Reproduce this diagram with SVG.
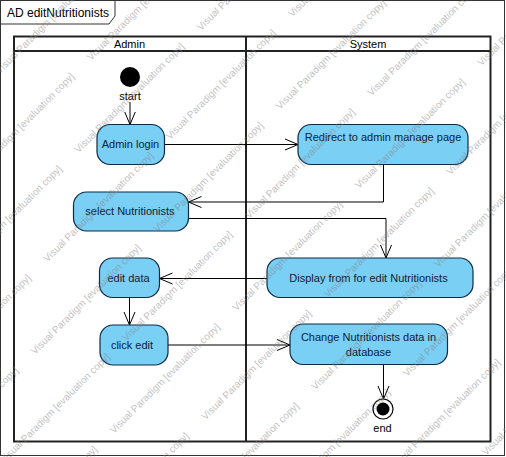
<svg xmlns="http://www.w3.org/2000/svg" width="506" height="457" viewBox="0 0 506 457">
<style>
.frame{fill:#fff;stroke:#333;stroke-width:1}
.lane{fill:none;stroke:#222;stroke-width:2}
.act{fill:#7ACFF5;stroke:#0D2B45;stroke-width:1.2}
.t{font-family:"Liberation Sans",Arial,sans-serif;font-size:11px;fill:#0F2235;text-anchor:middle}
.lbl{font-family:"Liberation Sans",Arial,sans-serif;font-size:11px;fill:#000;text-anchor:middle}
.title{font-family:"Liberation Sans",Arial,sans-serif;font-size:12px;fill:#000}
.c{fill:none;stroke:#000;stroke-width:1}
.wm{font-family:"Liberation Sans",Arial,sans-serif;font-size:10px;fill:#808080;fill-opacity:0.5}
</style>
<defs>
<marker id="arr" markerUnits="userSpaceOnUse" markerWidth="14" markerHeight="13" viewBox="0 0 14 13" refX="13" refY="6.5" orient="auto">
<path d="M0,1 L13,6.5 L0,12" fill="none" stroke="#000" stroke-width="1"/>
</marker>
</defs>
<rect width="506" height="457" fill="#fff"/>
<g id="frame">
<rect class="frame" x="0.5" y="0.5" width="504" height="455"/>
<path d="M0.5,24 L109,24 L115,16 L115,0.5" fill="none" stroke="#333" stroke-width="1"/>
<text class="title" x="7" y="17">AD editNutritionists</text>
</g>
<g id="swimlanes">
<rect class="lane" x="14" y="36.5" width="476.5" height="405"/>
<line class="lane" x1="14" y1="51" x2="490.5" y2="51"/>
<line class="lane" x1="246" y1="36.5" x2="246" y2="441.5"/>
<text class="lbl" x="129.5" y="48">Admin</text>
<text class="lbl" x="368" y="48">System</text>
</g>
<g id="connectors">
<path class="c" d="M130,102 L130,124.5" marker-end="url(#arr)"/>
<path class="c" d="M164.5,144.5 L298,144.5" marker-end="url(#arr)"/>
<path class="c" d="M383.5,164.5 L383.5,202 L188.5,202" marker-end="url(#arr)"/>
<path class="c" d="M188.5,218.5 L386,218.5 L386,258" marker-end="url(#arr)"/>
<path class="c" d="M267,278.5 L159.5,278.5" marker-end="url(#arr)"/>
<path class="c" d="M129.5,298 L129.5,325" marker-end="url(#arr)"/>
<path class="c" d="M168,345 L290,345" marker-end="url(#arr)"/>
<path class="c" d="M383.5,364.5 L383.5,399" marker-end="url(#arr)"/>
</g>
<g id="start">
<circle cx="130" cy="77" r="10" fill="#000"/>
<text class="lbl" x="130" y="100">start</text>
</g>
<g id="adminLogin">
<rect class="act" x="97" y="124.5" width="67.5" height="40" rx="13"/>
<text class="t" x="130.5" y="148">Admin login</text>
</g>
<g id="redirect">
<rect class="act" x="298" y="124.5" width="170" height="40" rx="13"/>
<text class="t" x="383" y="141">Redirect to admin manage page</text>
</g>
<g id="selectNutritionists">
<rect class="act" x="73.5" y="192" width="115" height="39" rx="13"/>
<text class="t" x="130" y="215">select Nutritionists</text>
</g>
<g id="displayForm">
<rect class="act" x="267" y="258" width="206" height="39.5" rx="13"/>
<text class="t" x="368.5" y="282">Display from for edit Nutritionists</text>
</g>
<g id="editData">
<rect class="act" x="99.5" y="258" width="60" height="39.5" rx="13"/>
<text class="t" x="128.5" y="282">edit data</text>
</g>
<g id="clickEdit">
<rect class="act" x="100" y="325" width="68" height="40" rx="13"/>
<text class="t" x="132" y="349">click edit</text>
</g>
<g id="changeData">
<rect class="act" x="290" y="324" width="157.5" height="40.5" rx="13"/>
<text class="t" x="368.5" y="341">Change Nutritionists data in</text>
<text class="t" x="368.5" y="356">database</text>
</g>
<g id="end">
<circle cx="383" cy="409" r="10" fill="#fff" stroke="#000" stroke-width="1.2"/>
<circle cx="383" cy="409" r="6.5" fill="#000"/>
<text class="lbl" x="382.5" y="432">end</text>
</g>
<g id="watermark" class="wm">
<text transform="translate(-0.5,74.5) rotate(-45)">Visual Paradigm [evaluation copy]</text>
<text transform="translate(-44,276) rotate(-45)">Visual Paradigm [evaluation copy]</text>
<text transform="translate(78.5,153.5) rotate(-45)">Visual Paradigm [evaluation copy]</text>
<text transform="translate(201,31) rotate(-45)">Visual Paradigm [evaluation copy]</text>
<text transform="translate(-87.5,477.5) rotate(-45)">Visual Paradigm [evaluation copy]</text>
<text transform="translate(35,355) rotate(-45)">Visual Paradigm [evaluation copy]</text>
<text transform="translate(157.5,232.5) rotate(-45)">Visual Paradigm [evaluation copy]</text>
<text transform="translate(280,110) rotate(-45)">Visual Paradigm [evaluation copy]</text>
<text transform="translate(-8.5,556.5) rotate(-45)">Visual Paradigm [evaluation copy]</text>
<text transform="translate(114,434) rotate(-45)">Visual Paradigm [evaluation copy]</text>
<text transform="translate(236.5,311.5) rotate(-45)">Visual Paradigm [evaluation copy]</text>
<text transform="translate(359,189) rotate(-45)">Visual Paradigm [evaluation copy]</text>
<text transform="translate(481.5,66.5) rotate(-45)">Visual Paradigm [evaluation copy]</text>
<text transform="translate(193,513) rotate(-45)">Visual Paradigm [evaluation copy]</text>
<text transform="translate(315.5,390.5) rotate(-45)">Visual Paradigm [evaluation copy]</text>
<text transform="translate(438,268) rotate(-45)">Visual Paradigm [evaluation copy]</text>
<text transform="translate(394.5,469.5) rotate(-45)">Visual Paradigm [evaluation copy]</text>
<text transform="translate(-31.5,183.5) rotate(-45)">Visual Paradigm [evaluation copy]</text>
<text transform="translate(91,61) rotate(-45)">Visual Paradigm [evaluation copy]</text>
<text transform="translate(-75,385) rotate(-45)">Visual Paradigm [evaluation copy]</text>
<text transform="translate(47.5,262.5) rotate(-45)">Visual Paradigm [evaluation copy]</text>
<text transform="translate(170,140) rotate(-45)">Visual Paradigm [evaluation copy]</text>
<text transform="translate(292.5,17.5) rotate(-45)">Visual Paradigm [evaluation copy]</text>
<text transform="translate(4,464) rotate(-45)">Visual Paradigm [evaluation copy]</text>
<text transform="translate(126.5,341.5) rotate(-45)">Visual Paradigm [evaluation copy]</text>
<text transform="translate(249,219) rotate(-45)">Visual Paradigm [evaluation copy]</text>
<text transform="translate(371.5,96.5) rotate(-45)">Visual Paradigm [evaluation copy]</text>
<text transform="translate(83,543) rotate(-45)">Visual Paradigm [evaluation copy]</text>
<text transform="translate(205.5,420.5) rotate(-45)">Visual Paradigm [evaluation copy]</text>
<text transform="translate(328,298) rotate(-45)">Visual Paradigm [evaluation copy]</text>
<text transform="translate(450.5,175.5) rotate(-45)">Visual Paradigm [evaluation copy]</text>
<text transform="translate(284.5,499.5) rotate(-45)">Visual Paradigm [evaluation copy]</text>
<text transform="translate(407,377) rotate(-45)">Visual Paradigm [evaluation copy]</text>
<text transform="translate(486,456) rotate(-45)">Visual Paradigm [evaluation copy]</text>
</g>
</svg>
